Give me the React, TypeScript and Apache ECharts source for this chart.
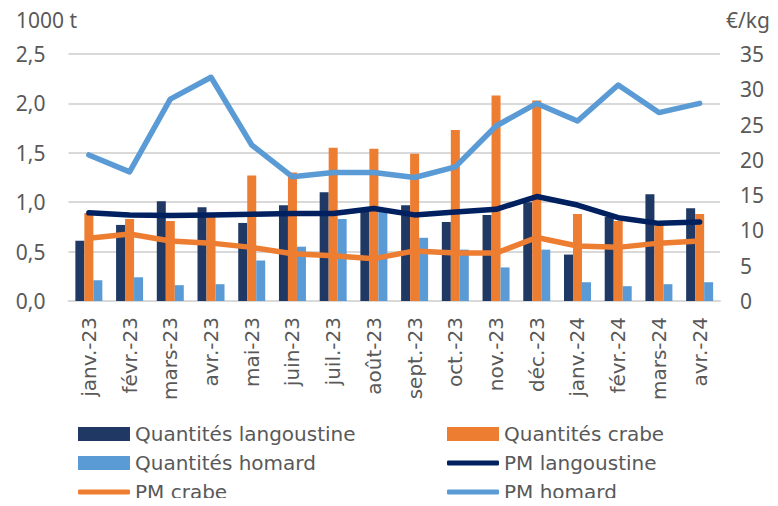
import React, { useEffect, useRef } from "react";
import * as echarts from "echarts";

const categories = ["janv.-23", "févr.-23", "mars-23", "avr.-23", "mai-23", "juin-23", "juil.-23", "août-23", "sept.-23", "oct.-23", "nov.-23", "déc.-23", "janv.-24", "févr.-24", "mars-24", "avr.-24"];
const qLangoustine = [0.61, 0.77, 1.01, 0.95, 0.79, 0.97, 1.10, 0.91, 0.97, 0.80, 0.87, 1.00, 0.47, 0.85, 1.08, 0.94];
const qCrabe = [0.89, 0.83, 0.81, 0.85, 1.27, 1.30, 1.55, 1.54, 1.49, 1.73, 2.08, 2.03, 0.88, 0.81, 0.78, 0.88];
const qHomard = [0.21, 0.24, 0.16, 0.17, 0.41, 0.55, 0.83, 0.90, 0.64, 0.52, 0.34, 0.52, 0.19, 0.15, 0.17, 0.19];
const pmLangoustine = [12.5, 12.2, 12.1, 12.2, 12.3, 12.4, 12.4, 13.1, 12.2, 12.6, 13.0, 14.8, 13.6, 11.8, 11.0, 11.2];
const pmCrabe = [8.9, 9.5, 8.5, 8.2, 7.6, 6.7, 6.4, 6.0, 7.1, 6.8, 6.8, 9.0, 7.8, 7.6, 8.2, 8.5];
const pmHomard = [20.7, 18.3, 28.6, 31.7, 22.1, 17.6, 18.2, 18.2, 17.5, 19.0, 24.8, 28.0, 25.5, 30.6, 26.7, 28.0];

const leftAxisName = "1000 t";
const rightAxisName = "€/kg";

const FONT = "'Noto Sans', sans-serif";
const WIDE = "'DejaVu Sans', sans-serif";
const GRAY = "#595959";
const C_DARK = "#203864";
const C_ORANGE = "#ED7D31";
const C_LIGHT = "#5B9BD5";
const C_NAVY = "#002060";

export default function App() {
  const ref = useRef<HTMLDivElement>(null);
  useEffect(() => {
    if (!ref.current) return;
    const chart = echarts.init(ref.current, null, { renderer: "svg" });
    const leg = (name: string, left: number, top: number, rect: boolean) => ({
      left,
      top,
      itemWidth: 52,
      itemHeight: rect ? 14 : 5,
      itemGap: 0,
      padding: 0,
      selectedMode: false,
      textStyle: { fontFamily: WIDE, fontSize: 20, color: GRAY },
      data: [{ name, icon: rect ? "rect" : "roundRect" }],
    });
    const lineSeries = (name: string, data: number[], color: string, z: number) => ({
      name,
      type: "line",
      yAxisIndex: 1,
      data,
      symbol: "none",
      z,
      lineStyle: { width: 5.5, color, cap: "round", join: "round" },
      itemStyle: { color },
    });
    const barSeries = (name: string, data: number[], color: string) => ({
      name,
      type: "bar",
      data,
      barWidth: 9,
      barGap: "0%",
      itemStyle: { color },
    });
    const titleStyle = { fontSize: 21, fontFamily: FONT, color: GRAY, fontWeight: "normal" };
    chart.setOption({
      animation: false,
      textStyle: { fontFamily: FONT },
      title: [
        { text: leftAxisName, left: 16, top: 9, padding: 0, textStyle: titleStyle },
        { text: rightAxisName, left: 726, top: 9, padding: 0, textStyle: titleStyle },
      ],
      grid: { left: 68.5, right: 58, top: 54, bottom: 205, containLabel: false, outerBoundsMode: "none" },
      legend: [
        leg("Quantités langoustine", 78, 424, true),
        leg("Quantités homard", 78, 453, true),
        leg("PM crabe", 78, 482, false),
        leg("Quantités crabe", 447, 424, true),
        leg("PM langoustine", 447, 453, false),
        leg("PM homard", 447, 482, false),
      ],
      xAxis: {
        type: "category",
        data: categories,
        axisTick: { show: false },
        axisLine: { lineStyle: { color: "#d9d9d9", width: 2 } },
        axisLabel: { rotate: 90, interval: 0, margin: 16, color: GRAY, fontSize: 20, fontFamily: WIDE },
      },
      yAxis: [
        {
          type: "value",
          min: 0,
          max: 2.5,
          interval: 0.5,
          axisLine: { show: false },
          axisTick: { show: false },
          splitLine: { lineStyle: { color: "#d9d9d9", width: 2 } },
          axisLabel: {
            margin: 23,
            color: GRAY,
            fontSize: 21,
            fontFamily: FONT,
            formatter: (v: number) => v.toFixed(1).replace(".", ","),
          },
        },
        {
          type: "value",
          min: 0,
          max: 35,
          interval: 5,
          axisLine: { show: false },
          axisTick: { show: false },
          splitLine: { show: false },
          axisLabel: { margin: 20, color: GRAY, fontSize: 21, fontFamily: FONT },
        },
      ],
      series: [
        barSeries("Quantités langoustine", qLangoustine, C_DARK),
        barSeries("Quantités crabe", qCrabe, C_ORANGE),
        barSeries("Quantités homard", qHomard, C_LIGHT),
        lineSeries("PM langoustine", pmLangoustine, C_NAVY, 3),
        lineSeries("PM crabe", pmCrabe, C_ORANGE, 4),
        lineSeries("PM homard", pmHomard, C_LIGHT, 5),
      ],
    });
    return () => chart.dispose();
  }, []);
  return <div ref={ref} style={{ width: 778, height: 506, margin: -8 }} />;
}
